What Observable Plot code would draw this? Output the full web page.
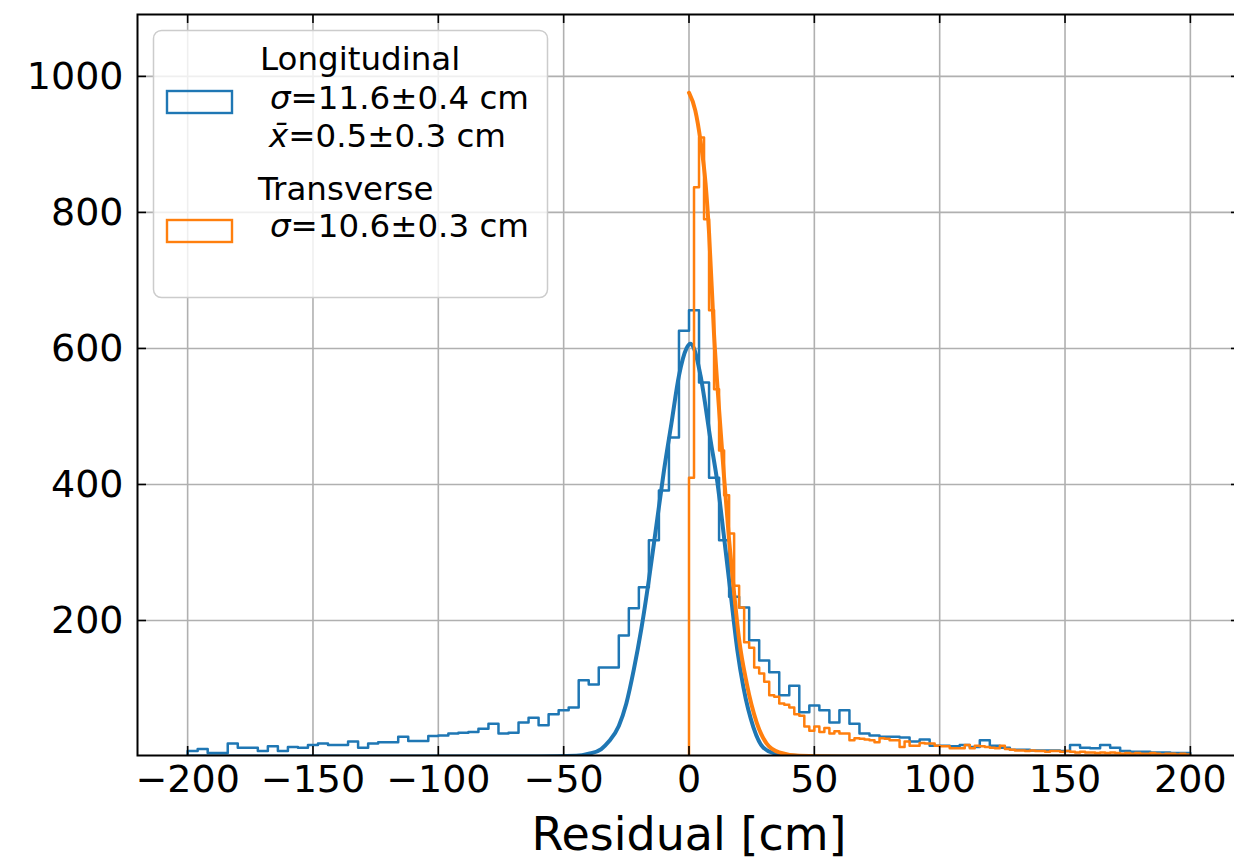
<!DOCTYPE html>
<html><head><meta charset="utf-8">
<script src="https://cdn.jsdelivr.net/npm/d3@7"></script>
<script src="https://cdn.jsdelivr.net/npm/@observablehq/plot@0.6"></script>
<style>
html,body{margin:0;padding:0;background:#fff;overflow:hidden;width:1234px;height:865px}
#wrap{position:relative;width:1234px;height:865px;overflow:hidden}
#wrap svg{max-width:none !important}
#legend{position:absolute;left:0;top:0}
</style></head><body><div id="wrap"></div>
<script>
// ---- data ----
const longStart = -200, longBinWidth = 4;
const longCounts = [
  8, 11, 5, 5, 19, 13, 13, 8, 15, 8,
  14, 13, 17, 19, 17, 17, 22, 13, 19, 21,
  21, 29, 23, 23, 30, 31, 34, 35, 36, 41,
  48, 34, 35, 50, 57, 46, 62, 68, 72, 112,
  106, 131, 131, 178, 218, 249, 318, 391, 469, 626,
  656, 550, 410, 318, 235, 219, 171, 141, 124, 90,
  104, 65, 75, 68, 50, 68, 48, 34, 31, 29,
  29, 28, 22, 25, 16, 16, 15, 17, 14, 24,
  16, 13, 10, 10, 9, 9, 9, 8, 17, 13,
  12, 17, 13, 8, 7, 7, 6, 6, 5, 5
];
const transStart = 0, transBinWidth = 2;
const transCounts = [
  410, 837, 910, 790, 656, 540, 450, 384, 328, 251,
  219, 168, 160, 131, 122, 110, 90, 88, 78, 76,
  72, 62, 60, 44, 38, 44, 36, 42, 34, 37,
  34, 34, 24, 27, 26, 25, 24, 21, 27, 26,
  24, 24, 14, 22, 16, 16, 20, 19, 19, 16,
  15, 15, 12, 12, 12, 17, 12, 16, 15, 14,
  13, 12, 16, 11, 10, 9, 9, 8, 9, 8,
  8, 7, 8, 8, 7, 8, 7, 6, 7, 6,
  6, 5, 6, 5, 6, 5, 4, 5, 4, 5,
  4, 4, 5, 4, 3, 4, 4, 3, 4, 3
];
// fitted curves, points
const longFitX = [-200, -60, -45, -40, -35, -32, -28, -25, -22, -19, -16, -13, -10, -7, -4, -1, 0.5, 2, 4.6, 8.6, 11.4, 13.8, 16.6, 19.3, 21.7, 25.7, 29.7, 35, 45, 60, 200];
const longFitY = [0, 0, 1, 4, 11, 22, 45, 78, 128, 188, 260, 340, 420, 490, 560, 600, 607, 600, 560, 465, 401, 328, 240, 156, 102, 43, 13, 4, 0.5, 0, 0];
const transFitX = [0, 2.5, 4.6, 6.6, 8, 10, 12, 14, 16, 18, 20, 23, 27, 31, 36, 44, 60, 200];
const transFitY = [976, 950, 905, 843, 770, 620, 510, 410, 318, 240, 172, 108, 50, 19, 6, 1, 0, 0];

const xTicks = [-200, -150, -100, -50, 0, 50, 100, 150, 200];
const yTicks = [200, 400, 600, 800, 1000];
const xLabel = "Residual [cm]";
const seriesNames = ["Longitudinal", "Transverse"];
const seriesColors = ["#1f77b4", "#ff7f0e"];

// ---- build ----
function stepPoints(start, w, counts) {
  const pts = [{x: start, y: 0}];
  counts.forEach((c, i) => pts.push({x: start + i * w, y: c}));
  pts.push({x: start + counts.length * w, y: 0});
  return pts;
}
const longHist = stepPoints(longStart, longBinWidth, longCounts);
const transHist = stepPoints(transStart, transBinWidth, transCounts);
const longFit = longFitX.map((x, i) => ({x, y: longFitY[i]}));
const transFit = transFitX.map((x, i) => ({x, y: transFitY[i]}));

const xDom = [-220, 220], yDom = [1.5, 1091];
const tickLenX = 9 / 2.507, tickLenY = 9 / 0.6801;
const fmt = d => d < 0 ? "\u2212" + (-d) : String(d);

const chart = Plot.plot({
  width: 1250, height: 865,
  marginLeft: 137, marginRight: 10, marginTop: 14, marginBottom: 110,
  x: {domain: xDom},
  y: {domain: yDom},
  style: {fontFamily: "DejaVu Sans", fontSize: "38px", color: "#000", background: "white", overflow: "visible", maxWidth: "none"},
  marks: [
    Plot.gridX(xTicks, {stroke: "#b0b0b0", strokeOpacity: 1, strokeWidth: 1.6}),
    Plot.gridY(yTicks, {stroke: "#b0b0b0", strokeOpacity: 1, strokeWidth: 1.6}),
    Plot.line(longHist, {x: "x", y: "y", curve: "step-after", stroke: seriesColors[0], strokeWidth: 2.5, clip: true}),
    Plot.line(longFit, {x: "x", y: "y", curve: "monotone-x", stroke: seriesColors[0], strokeWidth: 4, clip: true}),
    Plot.line(transHist, {x: "x", y: "y", curve: "step-after", stroke: seriesColors[1], strokeWidth: 2.5, clip: true}),
    Plot.line(transFit, {x: "x", y: "y", curve: "monotone-x", stroke: seriesColors[1], strokeWidth: 4, clip: true}),
    Plot.ruleX(xTicks, {x: d => d, y1: yDom[0], y2: yDom[0] + tickLenY, stroke: "#000", strokeWidth: 1.6}),
    Plot.ruleX(xTicks, {x: d => d, y1: yDom[1] - tickLenY, y2: yDom[1], stroke: "#000", strokeWidth: 1.6}),
    Plot.ruleY(yTicks, {y: d => d, x1: xDom[0], x2: xDom[0] + tickLenX, stroke: "#000", strokeWidth: 1.6}),
    Plot.ruleY(yTicks, {y: d => d, x1: xDom[1] - tickLenX, x2: xDom[1], stroke: "#000", strokeWidth: 1.6}),
    Plot.frame({stroke: "#000", strokeWidth: 2}),
    Plot.axisX(xTicks, {tickSize: 0, tickPadding: 10, fontSize: 38, tickFormat: fmt, label: null}),
    Plot.axisY(yTicks, {tickSize: 0, tickPadding: 14, fontSize: 38, tickFormat: fmt, label: null}),
    Plot.text([xLabel], {text: d => d, frameAnchor: "bottom", dy: 94, fontSize: 46})
  ]
});
chart.style.maxWidth = "none";
chart.style.width = "1250px";
chart.style.height = "865px";
const wrap = document.getElementById("wrap");
wrap.appendChild(chart);

// ---- legend overlay ----
const lg = d3.select(wrap).append("svg").attr("id", "legend").attr("width", 1234).attr("height", 865)
  .style("font-family", "DejaVu Sans").style("font-size", "32.5px");
lg.append("rect").attr("x", 153.5).attr("y", 30.5).attr("width", 394).attr("height", 267).attr("rx", 8)
  .attr("fill", "white").attr("fill-opacity", 0.8).attr("stroke", "#cccccc").attr("stroke-width", 1.5);
lg.append("rect").attr("x", 167).attr("y", 91).attr("width", 65).attr("height", 22)
  .attr("fill", "none").attr("stroke", seriesColors[0]).attr("stroke-width", 2.4);
lg.append("rect").attr("x", 167).attr("y", 220).attr("width", 65).attr("height", 22)
  .attr("fill", "none").attr("stroke", seriesColors[1]).attr("stroke-width", 2.4);
function addLine(x, y, sym, rest) {
  const t = lg.append("text").attr("x", x).attr("y", y).attr("fill", "#000");
  if (sym) t.append("tspan").attr("font-style", "italic").text(sym);
  t.append("tspan").text(rest);
}
addLine(260, 70, null, seriesNames[0]);
addLine(270, 109, "\u03c3", "=11.6\u00b10.4 cm");
addLine(269, 147, "x\u0304", "=0.5\u00b10.3 cm");
addLine(258, 200, null, seriesNames[1]);
addLine(270, 237, "\u03c3", "=10.6\u00b10.3 cm");
</script></body></html>
